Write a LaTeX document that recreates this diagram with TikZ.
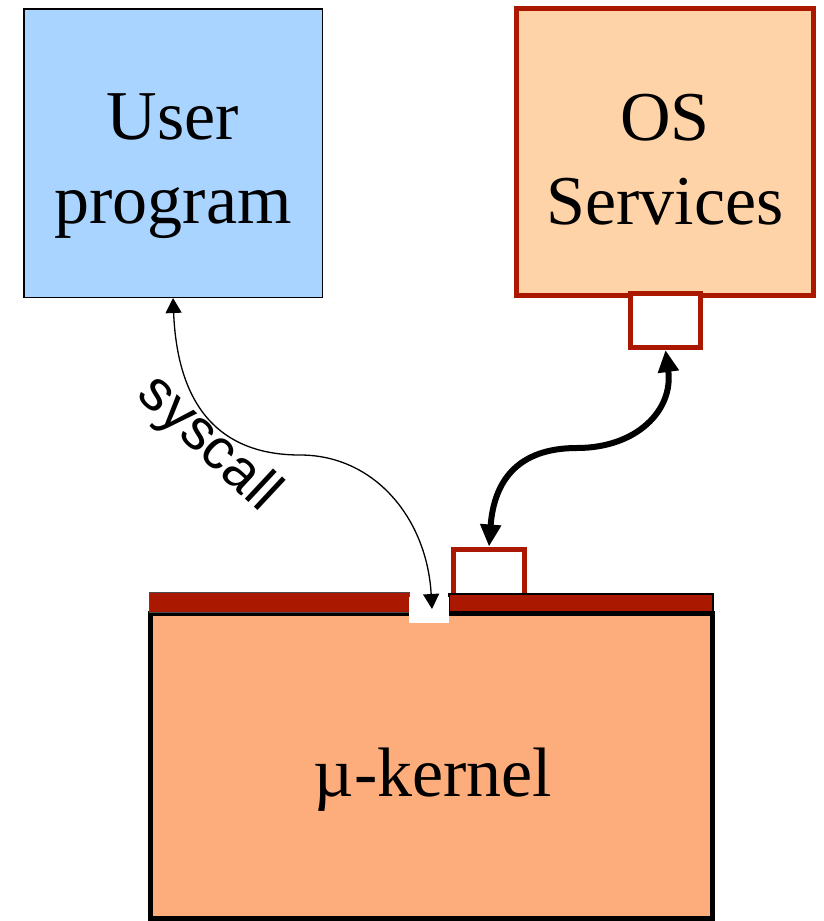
\documentclass[tikz,border=0pt]{standalone}
\usepackage{fontspec}
\setmainfont{Liberation Serif}
\newfontfamily\labelfont{Liberation Sans}
\usetikzlibrary{arrows.meta,positioning}
\definecolor{userblue}{RGB}{169,212,255}
\definecolor{osbeige}{RGB}{254,211,168}
\definecolor{kernelorange}{RGB}{253,172,123}
\definecolor{darkred}{RGB}{170,24,0}

\begin{document}
\begin{tikzpicture}[x=1pt,y=-1pt,
		box/.style={rectangle,inner sep=0pt},
		bigfont/.style={font=\fontsize{70}{84}\selectfont,align=center},
		port/.style={box,draw=darkred,line width=5pt,fill=white},
		bar/.style={box,fill=darkred},
		thinarrow/.style={{Triangle[width=16pt,length=15pt]}-{Triangle[width=16pt,length=15pt]},line width=1.3pt},
		thickarrow/.style={{Triangle[width=20pt,length=22pt]}-{Triangle[width=20pt,length=22pt]},line width=6pt}]
	\useasboundingbox (0,0) rectangle (823,921);
	\node[box,draw,fill=userblue,line width=1.5pt,minimum width=298.5pt,minimum height=288.5pt] (user) at (173,153) {};
	\node[box,draw=darkred,fill=osbeige,line width=5pt,minimum width=297pt,minimum height=287pt] (os) at (665,152) {};
	\node[port,minimum width=70pt,minimum height=54pt] (osport) at (665.5,320.5) {};
	\node[port,minimum width=71pt,minimum height=56pt] (kport) at (489,577) {};
	\node[box,draw,fill=kernelorange,line width=5pt,minimum width=562pt,minimum height=305pt] (kernel) at (431,766) {};
	\node[bar,draw=black!70,line width=1pt,minimum width=260pt,minimum height=20pt] (barL) at (279,602) {};
	\node[bar,draw,line width=1.5pt,minimum width=264pt,minimum height=18pt] (barR) at (581,603) {};
	\fill[white] (409,597) rectangle (449,623);
	\coordinate (gap) at (432,609);
	\node[bigfont] (usertxt) at (173,166.5) {User\\program};
	\node[bigfont] (ostxt) at (665,160) {OS\\Services};
	\node[bigfont,anchor=base] (ktxt) at (433,796) {µ-kernel};
	\node[font=\labelfont\fontsize{57}{60}\selectfont,rotate=-43,anchor=base] (sclabel) at (198,455) {syscall};
	\coordinate (sysmid) at (300,455);
	\coordinate (ipcmid) at (577,448);
	\draw[thinarrow] (user.south) .. controls +(5,120) and +(-70,0) .. (sysmid)
		.. controls +(75,0) and +(-5,-90) .. (gap);
	\draw[thickarrow] (kport.north) .. controls +(5,-65) and +(-60,0) .. (ipcmid)
		.. controls +(60,0) and +(8,60) .. (osport.south);
\end{tikzpicture}
\end{document}
